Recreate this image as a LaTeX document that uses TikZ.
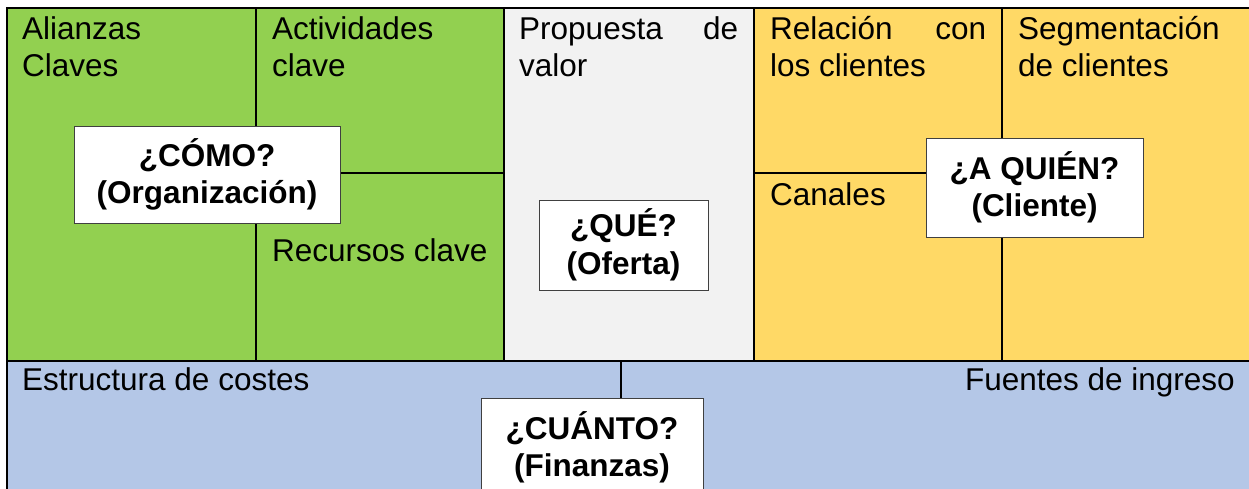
\documentclass[tikz,border=0pt]{standalone}
\usepackage{fontspec}
\setmainfont{Liberation Sans}
\definecolor{cgreen}{HTML}{92D050}
\definecolor{cgray}{HTML}{F2F2F2}
\definecolor{cyellow}{HTML}{FFD966}
\definecolor{cblue}{HTML}{B4C7E7}
\definecolor{boxline}{HTML}{404040}
\newcommand{\cellfont}{\fontsize{31.5}{37.5}\selectfont}
\tikzset{
  gridline/.style={line width=2pt, black},
  cell/.style={anchor=north west, inner sep=0pt, align=justify, font=\cellfont, execute at begin node=\strut},
  cellline/.style={inner sep=0pt, font=\cellfont},
  qbox/.style={draw=boxline, line width=1pt, fill=white, align=center, font=\cellfont\bfseries},
}
\begin{document}
\begin{tikzpicture}[x=1pt,y=-1pt]
\useasboundingbox (0,0) rectangle (1249,488);
\clip (0,0) rectangle (1249,488);
% fills
\fill[cgreen]  (7,8) rectangle (504,361);
\fill[cgray]   (504,8) rectangle (754,361);
\fill[cyellow] (754,8) rectangle (1260,361);
\fill[cblue]   (7,361) rectangle (1260,500);
% grid
\draw[gridline] (6,8) -- (1260,8);
\draw[gridline] (7,8) -- (7,500);
\draw[gridline] (256,8) -- (256,361);
\draw[gridline] (504,8) -- (504,361);
\draw[gridline] (754,8) -- (754,361);
\draw[gridline] (1002,8) -- (1002,361);
\draw[gridline] (256,173) -- (504,173);
\draw[gridline] (754,173) -- (1002,173);
\draw[gridline] (6,361) -- (1260,361);
\draw[gridline] (621,361) -- (621,400);
% cell labels
\node[cell, text width=220pt] (alianzas) at (22,13) {Alianzas\\Claves};
\node[cell, text width=220pt] (actividades) at (272,13) {Actividades\\clave};
\node[cell, text width=219pt] (propuesta) at (519,13) {Propuesta de valor};
\node[cell, text width=216pt] (relacion) at (770,13) {Relación con los clientes};
\node[cell, text width=225pt] (segmentacion) at (1018,13) {Segmentación\\de clientes};
\node[cellline, anchor=base west] (recursos) at (272,261) {Recursos clave};
\node[cellline, anchor=base west] (canales) at (770,205) {Canales};
\node[cellline, anchor=base west] (costes) at (22,390) {Estructura de costes};
\node[cellline, anchor=base east] (ingresos) at (1235,390) {Fuentes de ingreso};
% question boxes
\node[qbox, minimum width=266pt, minimum height=97pt] (como) at (207,174.5) {¿CÓMO?\\(Organización)};
\node[qbox, minimum width=169pt, minimum height=90pt] (que) at (623.5,245) {¿QUÉ?\\(Oferta)};
\node[qbox, minimum width=217pt, minimum height=99pt] (quien) at (1034.5,187.5) {¿A QUIÉN?\\(Cliente)};
\node[qbox, anchor=north, minimum width=222pt, inner ysep=13pt, text depth=70pt] (cuanto) at (592,398) {¿CUÁNTO?\\(Finanzas)};
\end{tikzpicture}
\end{document}
